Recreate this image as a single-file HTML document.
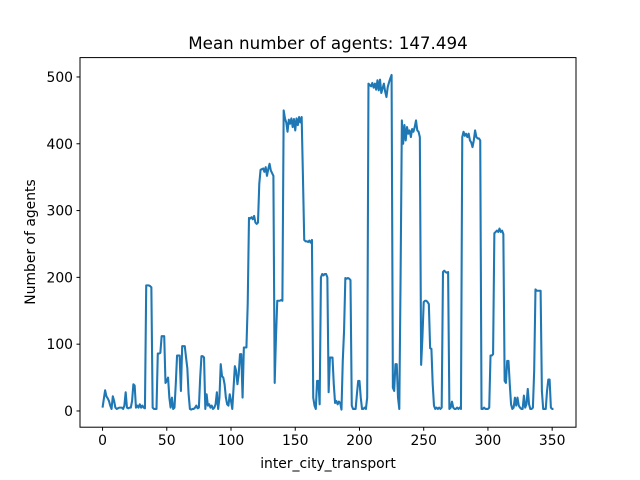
<!DOCTYPE html>
<html><head><meta charset="utf-8"><style>
body{margin:0;background:#fff;}
svg{display:block;font-family:"DejaVu Sans","Liberation Sans",sans-serif;}
</style></head><body>
<svg id="chart" width="640" height="480">
<rect width="640" height="480" fill="#fff"/>
<text x="328" y="49" text-anchor="middle" font-size="16.7">Mean number of agents: 147.494</text>
<g id="xticks"></g>
<g id="yticks"></g>
<path id="series" fill="none" stroke="#1f77b4" stroke-width="2.08" stroke-linejoin="round"/>
<rect x="80" y="57.6" width="496" height="369.6" fill="none" stroke="#000" stroke-width="1"/>
<text x="328" y="468" text-anchor="middle" font-size="13.9">inter_city_transport</text>
<text transform="translate(35,242) rotate(-90)" text-anchor="middle" font-size="13.9">Number of agents</text>
</svg>
<script>
const xTicks = [0,50,100,150,200,250,300,350];
const yTicks = [0,100,200,300,400,500];
const agents = [5,18,31,22,19,15,8,3,22,15,5,3,4,5,5,5,3,8,28,5,4,5,5,15,40,38,5,8,5,10,5,8,5,4,
188,188,188,187,185,5,3,3,3,
86,86,87,112,112,112,42,45,50,20,5,20,3,5,40,83,83,83,30,97,97,97,80,64,25,3,2,3,3,5,8,4,5,50,82,82,80,3,25,8,10,5,8,3,5,10,28,3,20,70,52,50,40,20,10,8,25,15,3,35,67,60,40,55,85,85,20,95,95,95,160,
289,288,290,287,292,282,280,282,340,361,362,363,358,365,352,362,370,360,356,352,42,110,165,165,165,166,165,
450,438,432,418,436,430,438,425,437,420,438,428,440,432,440,350,256,254,254,253,255,252,256,20,8,3,45,45,10,
200,205,203,205,205,200,28,80,80,80,40,12,15,10,14,12,2,75,120,199,198,199,198,196,8,3,3,3,25,45,45,20,3,3,5,3,20,
490,488,486,491,484,490,481,495,480,496,476,483,490,478,470,485,492,498,503,35,30,70,70,20,3,200,
435,400,428,405,425,415,420,410,422,418,425,435,420,418,410,69,110,163,165,165,163,160,94,93,40,8,3,5,3,5,3,5,
208,210,208,207,208,3,5,14,5,3,3,5,3,5,3,
410,418,412,415,410,415,405,402,395,405,420,410,408,408,405,3,3,5,3,3,3,5,83,83,85,
266,268,270,268,273,268,270,265,45,42,75,75,40,10,3,5,20,8,20,8,5,3,3,23,5,10,33,10,3,3,5,60,
182,180,180,180,180,30,3,3,3,30,47,47,5,3,3];

const L=80,R=576,T=57.6,B=427.2;
const n=agents.length;
const xMin=-(n-1)*0.05, xMax=(n-1)*1.05;
const yMin=-24.3, yMax=529;
const sx=v=>L+(v-xMin)/(xMax-xMin)*(R-L);
const sy=v=>B-(v-yMin)/(yMax-yMin)*(B-T);
const NS="http://www.w3.org/2000/svg";

const xg=document.getElementById('xticks');
xTicks.forEach(t=>{
  const x=sx(t);
  const ln=document.createElementNS(NS,'line');
  ln.setAttribute('x1',x);ln.setAttribute('x2',x);ln.setAttribute('y1',B);ln.setAttribute('y2',B+3.5);
  ln.setAttribute('stroke','#000');
  
  
  xg.appendChild(ln);
  const tx=document.createElementNS(NS,'text');
  tx.setAttribute('x',x);tx.setAttribute('y',B+18);tx.setAttribute('text-anchor','middle');tx.setAttribute('font-size','13.9');
  tx.textContent=t;
  
  
  xg.appendChild(tx);
});
const yg=document.getElementById('yticks');
yTicks.forEach(t=>{
  const y=sy(t);
  const ln=document.createElementNS(NS,'line');
  ln.setAttribute('x1',L-3.5);ln.setAttribute('x2',L);ln.setAttribute('y1',y);ln.setAttribute('y2',y);
  ln.setAttribute('stroke','#000');
  
  
  yg.appendChild(ln);
  const tx=document.createElementNS(NS,'text');
  tx.setAttribute('x',L-7);tx.setAttribute('y',y+5);tx.setAttribute('text-anchor','end');tx.setAttribute('font-size','13.9');
  tx.textContent=t;
  
  
  yg.appendChild(tx);
});
let d='';
agents.forEach((v,i)=>{d+=(i?'L':'M')+sx(i).toFixed(2)+','+sy(v).toFixed(2);});
document.getElementById('series').setAttribute('d',d);
</script>
</body></html>
